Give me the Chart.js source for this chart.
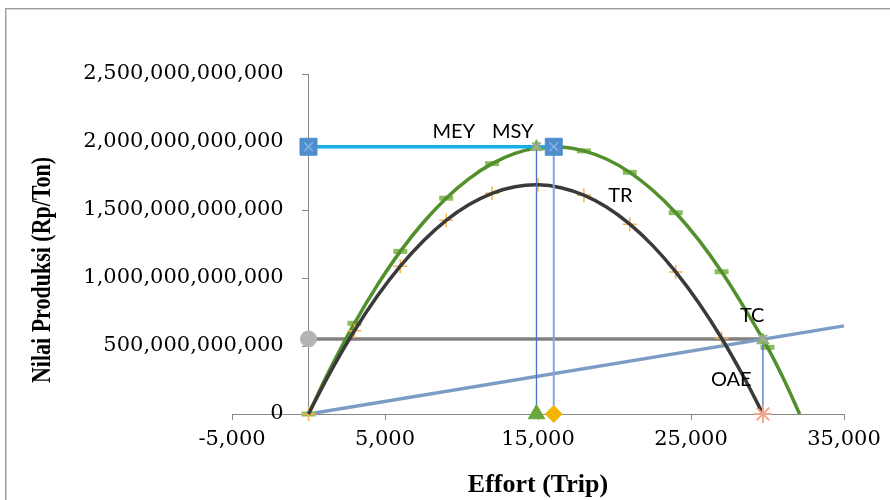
<!DOCTYPE html>
<html>
<head>
<meta charset="utf-8">
<script src="https://cdn.jsdelivr.net/npm/chart.js@4.4.0/dist/chart.umd.min.js"></script>
<style>
  html, body { margin: 0; padding: 0; background: #ffffff; }
  #wrap { width: 890px; height: 500px; position: relative; }
</style>
</head>
<body>
<div id="wrap"><canvas id="c" width="890" height="500"></canvas></div>
<script>
// ---------- data ----------
const xTickValues = [-5000, 5000, 15000, 25000, 35000];

// TR curve (black)
const trEffort = [0, 1500, 3000, 4500, 6000, 7500, 9000, 10500, 12000, 13500, 15000, 16500, 18000, 19500, 21000, 22500, 24000, 25500, 27000, 28500, 29700];
const trValue  = [0, 323e9, 612e9, 867e9, 1087e9, 1272e9, 1424e9, 1540e9, 1623e9, 1671e9, 1685e9, 1664e9, 1609e9, 1520e9, 1396e9, 1238e9, 1045e9, 818e9, 557e9, 261e9, 0];
// TR observed points (orange +)
const trPointEffort = [0, 3000, 6000, 9000, 12000, 15000, 18000, 21000, 24000, 27000];
const trPointValue  = [0, 612e9, 1087e9, 1424e9, 1623e9, 1685e9, 1609e9, 1396e9, 1045e9, 557e9];

// Green curve
const greenEffort = [0, 1500, 3000, 4500, 6000, 7500, 9000, 10500, 12000, 13500, 15000, 16500, 18000, 19500, 21000, 22500, 24000, 25500, 27000, 28500, 30000, 31000, 32100];
const greenValue  = [0, 350e9, 667e9, 948e9, 1196e9, 1408e9, 1587e9, 1731e9, 1841e9, 1916e9, 1957e9, 1963e9, 1935e9, 1873e9, 1777e9, 1645e9, 1480e9, 1280e9, 1046e9, 778e9, 490e9, 270e9, 0];
// Green observed points (green dashes)
const greenPointEffort = [0, 3000, 6000, 9000, 12000, 15000, 18000, 21000, 24000, 27000, 30000];
const greenPointValue  = [0, 667e9, 1196e9, 1587e9, 1841e9, 1957e9, 1935e9, 1777e9, 1480e9, 1046e9, 490e9];

// TC line
const tcEffort = [0, 35000];
const tcValue  = [0, 648e9];

// Gray horizontal line
const grayEffort = [0, 29700];
const grayValue  = [552e9, 552e9];

// Cyan horizontal line
const cyanEffort = [0, 16030];
const cyanValue  = [1965e9, 1965e9];

// Reference points
const meyEffort = 14900;
const msyEffort = 16030;
const oaeEffort = 29700;
const topValue = 1965e9;
const costValue = 552e9;

// Text annotations (anchored in data coordinates)
const noteTexts  = ['MEY', 'MSY', 'TR', 'TC', 'OAE'];
const noteEffort = [9500, 13350, 20390, 29000, 27630];
const noteValue  = [2075e9, 2075e9, 1604e9, 721e9, 250e9];

// ---------- helpers ----------
const pts = (xs, ys) => xs.map((x, i) => ({ x: x, y: ys[i] }));
const fmt = v => Number(v).toLocaleString('en-US');

function lineDs(data, color, width, tension) {
  return { data, borderColor: color, borderWidth: width, pointRadius: 0, tension: tension, fill: false, showLine: true, clip: false };
}
function markDs(data, style, radius, fillColor, strokeColor, bw) {
  return { data, showLine: false, pointStyle: style, pointRadius: radius, pointBackgroundColor: fillColor,
           pointBorderColor: strokeColor, pointBorderWidth: bw, clip: false, borderColor: strokeColor, backgroundColor: fillColor };
}

const datasets = [
  markDs(pts([0, msyEffort], [topValue, topValue]), 'crossRot', 6, '#86b6e6', '#86b6e6', 1.5),
  markDs(pts([0, msyEffort], [topValue, topValue]), 'rect', 12, '#4f8dcd', '#4f8dcd', 1),
  markDs(pts([meyEffort], [0]), 'triangle', 9.5, '#6aa83e', '#6aa83e', 1),
  markDs(pts([msyEffort], [0]), 'rectRot', 8.5, '#f2b500', '#f2b500', 1),
  markDs(pts([oaeEffort], [0]), 'star', 9, '#f0a58a', '#f0a58a', 2),
  markDs(pts([0], [costValue]), 'circle', 8, '#b4b4b4', '#b4b4b4', 1),
  markDs(pts([meyEffort, oaeEffort], [topValue, costValue]), 'crossRot', 6, '#a8a8a8', '#a8a8a8', 2),
  markDs(pts([meyEffort, oaeEffort], [topValue, costValue - 10e9]), 'triangle', 7, '#7ab34f', '#7ab34f', 1),
  lineDs(pts([meyEffort, meyEffort], [topValue, 0]), '#4a74c9', 1.3, 0),
  lineDs(pts([msyEffort, msyEffort], [topValue, 0]), '#86a6df', 2, 0),
  lineDs(pts([oaeEffort, oaeEffort], [costValue, 0]), '#4a74c9', 1.3, 0),
  lineDs(pts(cyanEffort, cyanValue), '#14aee8', 3.5, 0),
  lineDs(pts(trEffort, trValue), '#3a3a3a', 3.5, 0.4),
  markDs(pts(trPointEffort, trPointValue), 'cross', 7, '#f7b350', '#f7b350', 1.5),
  lineDs(pts(greenEffort, greenValue), '#52902c', 3.5, 0.4),
  markDs(pts(greenPointEffort, greenPointValue), 'line', 7, '#8dbb62', '#8dbb62', 5),
  lineDs(pts(tcEffort, tcValue), '#7d9cc5', 3.5, 0),
  lineDs(pts(grayEffort, grayValue), '#808080', 3.5, 0)
];

// ---------- plugins ----------
const framePlugin = {
  id: 'frame',
  beforeDraw(chart) {
    const c = chart.ctx;
    c.save();
    c.fillStyle = '#ffffff';
    c.fillRect(0, 0, chart.width, chart.height);
    c.strokeStyle = '#9a9a9a';
    c.lineWidth = 1;
    c.strokeRect(5.5, 8.5, 1000, 1000);
    c.strokeStyle = '#d6d6d6';
    c.strokeRect(6.5, 9.5, 1000, 1000);
    c.restore();
  }
};

const textPlugin = {
  id: 'texts',
  afterDraw(chart) {
    const c = chart.ctx;
    const xs = chart.scales.x, ys = chart.scales.y;
    c.save();
    // axis titles
    c.fillStyle = '#000000';
    c.font = 'bold 26px "Liberation Serif"';
    c.textAlign = 'center';
    c.textBaseline = 'alphabetic';
    c.fillText('Effort (Trip)', (chart.chartArea.left + chart.chartArea.right) / 2, 492);
    c.save();
    c.translate(50, 270);
    c.rotate(-Math.PI / 2);
    c.scale(1, 1.2);
    c.font = 'bold 22px "Liberation Serif"';
    c.fillText('Nilai Produksi (Rp/Ton)', 0, 0);
    c.restore();
    // curve labels
    c.font = '20px Lato';
    c.textBaseline = 'middle';
    noteTexts.forEach((t, i) => {
      c.fillText(t, xs.getPixelForValue(noteEffort[i]), ys.getPixelForValue(noteValue[i]));
    });
    c.restore();
  }
};

const axisColor = '#878787';
const tickFont = { family: 'DejaVu Serif', size: 21 };

new Chart(document.getElementById('c'), {
  type: 'line',
  data: { datasets },
  options: {
    responsive: false,
    animation: false,
    devicePixelRatio: 1,
    parsing: true,
    layout: { padding: { left: 232, right: 46, top: 74, bottom: 0 } },
    plugins: { legend: { display: false }, tooltip: { enabled: false } },
    scales: {
      x: {
        type: 'linear', position: 'bottom', min: -5000, max: 35000,
        afterBuildTicks: s => { s.ticks = xTickValues.map(v => ({ value: v })); },
        afterFit: s => { s.height = 86; },
        grid: { drawOnChartArea: false, drawTicks: true, tickLength: 6, color: axisColor },
        border: { display: true, color: axisColor, width: 1 },
        ticks: { font: tickFont, color: '#000000', padding: 7, maxRotation: 0, autoSkip: false, callback: v => fmt(v) }
      },
      y: {
        type: 'linear', axis: 'y', position: { x: 0 }, min: 0, max: 2.5e12,
        ticks: { display: false, stepSize: 5e11 },
        grid: { drawOnChartArea: false, drawTicks: true, tickLength: 6, color: axisColor },
        border: { display: true, color: axisColor, width: 1 }
      },
      yLabels: {
        type: 'linear', axis: 'y', position: { x: -1620 }, min: 0, max: 2.5e12,
        ticks: { stepSize: 5e11, font: tickFont, color: '#000000', callback: v => fmt(v) },
        grid: { display: false },
        border: { display: false }
      }
    }
  },
  plugins: [framePlugin, textPlugin]
});
</script>
</body>
</html>
